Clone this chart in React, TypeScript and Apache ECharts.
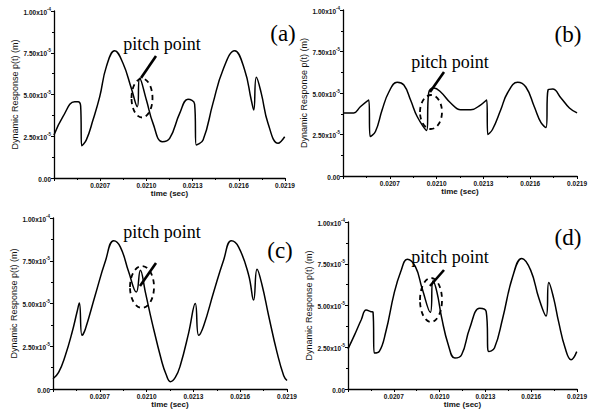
import React, { useEffect, useRef } from "react";
import * as echarts from "echarts";

// time axis (s)
const X_MIN = 0.0204;
const X_MAX = 0.0219;
const X_STEP = 0.0003;
const xTickLabels = ["0.0204", "0.0207", "0.0210", "0.0213", "0.0216", "0.0219"];

// response axis, values in units of 1e-5 m
const Y_MIN = 0;
const Y_MAX = 10;
const Y_STEP = 2.5;
const yTickMantissa = ["0.00", "2.50x10", "5.00x10", "7.50x10", "1.00x10"];
const yTickExponent = ["", "-5", "-5", "-5", "-4"];

const panelLetters = ["(a)", "(b)", "(c)", "(d)"];
const annotationText = "pitch point";
const xName = "time (sec)";
const yName = "Dynamic Response p(t) (m)";

// panel (a)
const timeA = [0.0204, 0.020458, 0.020534, 0.020556, 0.020573, 0.02058, 0.02061, 0.020653, 0.020697, 0.02074, 0.020794, 0.020848, 0.020902, 0.020941, 0.020956, 0.021, 0.021043, 0.021103, 0.021151, 0.021216, 0.02127, 0.021313, 0.021324, 0.021368, 0.021432, 0.021497, 0.021573, 0.021638, 0.021681, 0.021697, 0.021714, 0.021746, 0.02179, 0.021855, 0.021898];
const respA = [2.57, 3.67, 4.57, 4.57, 4.31, 1.93, 2.28, 3.47, 4.87, 6.67, 7.62, 6.87, 5.37, 4.27, 5.97, 4.67, 3.27, 2.17, 2.37, 3.87, 4.71, 4.43, 1.98, 2.28, 4.47, 6.47, 7.62, 6.47, 4.67, 4.07, 6.03, 5.07, 3.27, 2.08, 2.47];

// panel (b)
const timeB = [0.0204, 0.020469, 0.020511, 0.020565, 0.020574, 0.020608, 0.020651, 0.020694, 0.020747, 0.02079, 0.020833, 0.020876, 0.020936, 0.020949, 0.020983, 0.021026, 0.02109, 0.021154, 0.021219, 0.021283, 0.021321, 0.021328, 0.021358, 0.021411, 0.021454, 0.021519, 0.021572, 0.021626, 0.021669, 0.021701, 0.021714, 0.021744, 0.021797, 0.021851, 0.0219];
const respB = [3.8, 3.8, 4.17, 4.58, 2.38, 2.68, 3.99, 5.06, 5.65, 5.48, 4.58, 3.57, 2.74, 5.0, 5.3, 5.06, 4.4, 3.99, 3.99, 4.29, 4.58, 2.5, 2.8, 3.99, 5.0, 5.65, 5.36, 4.17, 3.21, 2.92, 5.18, 5.24, 4.7, 4.1, 3.8];

// panel (c)
const timeC = [0.0204, 0.020436, 0.020479, 0.020522, 0.020554, 0.020569, 0.020586, 0.020607, 0.020671, 0.020735, 0.020789, 0.020832, 0.020885, 0.020934, 0.02096, 0.020992, 0.021035, 0.021099, 0.021124, 0.021152, 0.021184, 0.021216, 0.02127, 0.021312, 0.021334, 0.021366, 0.02143, 0.021494, 0.021543, 0.02159, 0.021654, 0.021686, 0.021708, 0.02174, 0.021782, 0.021836, 0.021879, 0.0219];
const respC = [0.6, 0.97, 1.96, 3.3, 4.5, 5.03, 3.14, 3.5, 5.5, 7.45, 8.67, 8.3, 6.85, 5.67, 6.95, 5.67, 3.9, 1.55, 0.88, 0.43, 0.68, 1.37, 3.3, 5.0, 3.14, 3.7, 5.67, 7.55, 8.67, 8.3, 6.67, 5.2, 7.0, 6.08, 4.3, 2.14, 0.78, 0.5];

// panel (d)
const timeD = [0.0204, 0.020443, 0.020486, 0.020519, 0.020551, 0.020564, 0.020572, 0.020605, 0.020648, 0.020702, 0.020745, 0.020788, 0.020842, 0.020885, 0.020939, 0.020956, 0.020982, 0.021014, 0.021057, 0.0211, 0.021144, 0.021197, 0.021262, 0.021305, 0.021322, 0.021359, 0.021413, 0.021478, 0.021538, 0.021596, 0.02165, 0.021697, 0.021715, 0.021747, 0.021779, 0.021822, 0.021861, 0.021898];
const respD = [2.4, 3.24, 4.13, 4.73, 4.63, 4.59, 2.15, 2.25, 3.44, 5.73, 7.02, 7.77, 7.31, 6.03, 4.59, 6.46, 5.82, 4.24, 2.64, 1.85, 2.05, 3.64, 4.83, 4.63, 2.24, 2.45, 4.24, 6.72, 7.82, 7.12, 5.43, 4.37, 6.38, 5.43, 4.03, 2.45, 1.75, 2.24];

const panels = [
  { time: timeA, resp: respA },
  { time: timeB, resp: respB },
  { time: timeC, resp: respC },
  { time: timeD, resp: respD },
];

// layout (pixels)
const grids = [
  { left: 54, top: 11, width: 231, height: 167 },
  { left: 343, top: 10, width: 235, height: 166 },
  { left: 53, top: 218, width: 234, height: 171 },
  { left: 348, top: 222, width: 232, height: 167 },
];

const notes = [
  { lx: 283, ly: 33, px: 162, py: 44, ar: [156, 56, 141, 78], el: [142, 98, 10.5, 19.5] },
  { lx: 568, ly: 34, px: 450, py: 62, ar: [444, 72, 430, 92], el: [431, 112, 11, 17] },
  { lx: 280, ly: 250, px: 162, py: 232, ar: [156, 263, 140, 286], el: [142, 287, 12, 21] },
  { lx: 568, ly: 237, px: 450, py: 257, ar: [444, 270, 430, 286], el: [431, 300, 11, 22] },
];

const SANS = "Arial, 'Liberation Sans', 'DejaVu Sans', sans-serif";
const SERIF = "'Liberation Serif', 'Times New Roman', 'DejaVu Serif', serif";

function buildOption() {
  const xAxis = grids.map((_, i) => ({
    type: "value",
    gridIndex: i,
    min: X_MIN,
    max: X_MAX,
    interval: X_STEP,
    name: xName,
    nameLocation: "middle",
    nameGap: 11,
    nameTextStyle: { fontSize: 8, fontWeight: "bold", color: "#111", fontFamily: SANS },
    axisLine: { onZero: false, lineStyle: { color: "#000", width: 1.3 } },
    axisTick: { length: 3, lineStyle: { color: "#000", width: 1 } },
    minorTick: { show: true, splitNumber: 2, length: 2, lineStyle: { color: "#000", width: 1 } },
    splitLine: { show: false },
    minorSplitLine: { show: false },
    axisLabel: {
      fontSize: 6.5,
      fontWeight: "bold",
      color: "#111",
      fontFamily: SANS,
      margin: 4,
      showMinLabel: false,
      formatter: (v: number) => xTickLabels[Math.round((v - X_MIN) / X_STEP)] ?? "",
    },
  }));
  const yAxis = grids.map((_, i) => ({
    type: "value",
    gridIndex: i,
    min: Y_MIN,
    max: Y_MAX,
    interval: Y_STEP,
    name: yName,
    nameLocation: "middle",
    nameGap: 35,
    nameTextStyle: { fontSize: 9, color: "#111", fontFamily: SANS },
    axisLine: { show: true, onZero: false, lineStyle: { color: "#000", width: 1.3 } },
    axisTick: { show: true, length: 3, lineStyle: { color: "#000", width: 1 } },
    minorTick: { show: true, splitNumber: 2, length: 2, lineStyle: { color: "#000", width: 1 } },
    splitLine: { show: false },
    minorSplitLine: { show: false },
    axisLabel: {
      color: "#111",
      fontFamily: SANS,
      margin: 3,
      formatter: (v: number) => {
        const k = Math.round((v - Y_MIN) / Y_STEP);
        const m = yTickMantissa[k] ?? "";
        const e = yTickExponent[k] ?? "";
        return e ? `{m|${m}}{s|${e}}` : `{m|${m}}`;
      },
      rich: {
        m: { fontSize: 6.5, fontWeight: "bold", color: "#111", fontFamily: SANS, lineHeight: 9, verticalAlign: "bottom" },
        s: { fontSize: 4.5, fontWeight: "bold", color: "#111", fontFamily: SANS, lineHeight: 9, verticalAlign: "top", padding: [0, 0, 3, 0] },
      },
    },
  }));
  const series = panels.map((p, i) => ({
    type: "line",
    xAxisIndex: i,
    yAxisIndex: i,
    showSymbol: false,
    symbol: "none",
    smooth: 0.45,
    lineStyle: { color: "#000", width: 1.5 },
    data: p.time.map((t, k) => [t, p.resp[k]]),
  }));
  const graphic: any[] = [];
  notes.forEach((n, i) => {
    graphic.push({
      type: "text",
      x: n.lx,
      y: n.ly,
      style: {
        text: panelLetters[i],
        fill: "#000",
        fontSize: 23,
        fontFamily: SERIF,
        textAlign: "center",
        textVerticalAlign: "middle",
        align: "center",
        verticalAlign: "middle",
      },
    });
    graphic.push({
      type: "text",
      x: n.px,
      y: n.py,
      style: {
        text: annotationText,
        fill: "#000",
        fontSize: 18,
        fontFamily: SERIF,
        textAlign: "center",
        textVerticalAlign: "middle",
        align: "center",
        verticalAlign: "middle",
      },
    });
    graphic.push({
      type: "line",
      shape: { x1: n.ar[0], y1: n.ar[1], x2: n.ar[2], y2: n.ar[3] },
      style: { stroke: "#000", lineWidth: 2.6 },
    });
    graphic.push({
      type: "ellipse",
      shape: { cx: n.el[0], cy: n.el[1], rx: n.el[2], ry: n.el[3] },
      style: { fill: "none", stroke: "#000", lineWidth: 1.8, lineDash: [5, 4] },
    });
  });
  return {
    animation: false,
    backgroundColor: "#fff",
    grid: grids.map((g) => ({ ...g, containLabel: false })),
    xAxis,
    yAxis,
    series,
    graphic,
  };
}

export default function App() {
  const ref = useRef<HTMLDivElement>(null);
  useEffect(() => {
    if (!ref.current) return;
    const chart = echarts.init(ref.current, null, { renderer: "svg" });
    chart.setOption(buildOption() as any);
    return () => chart.dispose();
  }, []);
  return (
    <div
      ref={ref}
      style={{ position: "fixed", left: 0, top: 0, width: 590, height: 412, background: "#fff" }}
    />
  );
}
